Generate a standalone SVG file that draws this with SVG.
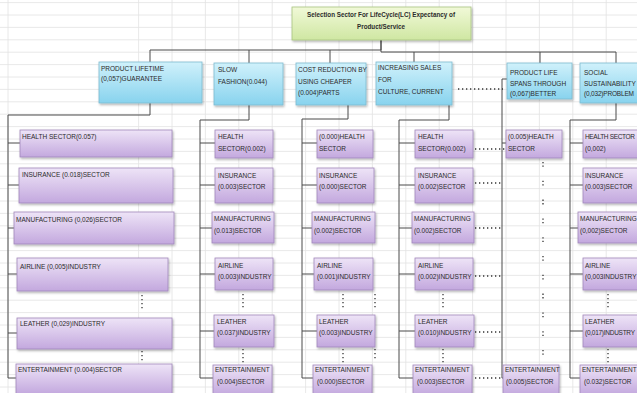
<svg xmlns="http://www.w3.org/2000/svg" width="637" height="393" viewBox="0 0 637 393">
<defs>
<linearGradient id="gGreen" x1="0" y1="0" x2="0" y2="1"><stop offset="0" stop-color="#f1f9d8"/><stop offset="1" stop-color="#cfe7a2"/></linearGradient>
<linearGradient id="gBlue" x1="0" y1="0" x2="0" y2="1"><stop offset="0" stop-color="#d0f1fb"/><stop offset="1" stop-color="#88d3ee"/></linearGradient>
<linearGradient id="gPurple" x1="0" y1="0" x2="0" y2="1"><stop offset="0" stop-color="#eee4f7"/><stop offset="1" stop-color="#c3a8de"/></linearGradient>
<filter id="sh" x="-10%" y="-10%" width="130%" height="140%"><feDropShadow dx="1" dy="1.5" stdDeviation="1" flood-color="#000" flood-opacity="0.3"/></filter>
<style>
.grid{stroke:#e2e2e2;stroke-width:0.8}
.title{fill:url(#gGreen);stroke:#a9c47f;stroke-width:0.8;filter:url(#sh)}
.l1{fill:url(#gBlue);stroke:#7dbbd0;stroke-width:0.8;filter:url(#sh)}
.l2{fill:url(#gPurple);stroke:#a188bb;stroke-width:0.8;filter:url(#sh)}
.c{fill:none;stroke:#4a4a4a;stroke-width:1}
.d{fill:none;stroke:#333;stroke-width:1.3;stroke-dasharray:1.3 2.7}
.dc{fill:none;stroke:#333;stroke-width:1.3;stroke-dasharray:1.3 2.2 1.3 14}
text{font-family:"Liberation Sans",Arial,sans-serif;font-size:6.5px;fill:#2b2b2b}
.tt{font-weight:bold;font-size:6.3px;text-anchor:middle}
</style>
</defs>
<rect width="637" height="393" fill="#ffffff"/>
<g id="grid">
<path class="grid" d="M0,2.6H637M0,15H637M0,27.4H637M0,39.8H637M0,52.2H637M0,64.6H637M0,77H637M0,89.4H637M0,101.8H637M0,114.2H637M0,126.6H637M0,139H637M0,151.4H637M0,163.8H637M0,176.2H637M0,188.6H637M0,201H637M0,213.4H637M0,225.8H637M0,238.2H637M0,250.6H637M0,263H637M0,275.4H637M0,287.8H637M0,300.2H637M0,312.6H637M0,325H637M0,337.4H637M0,349.8H637M0,362.2H637M0,374.6H637M0,387H637"/>
<path class="grid" d="M8,0V393M138.6,0V393M172,0V393M205.4,0V393M238.8,0V393M272.2,0V393M305.6,0V393M339,0V393M372.4,0V393M405.8,0V393M439.2,0V393M472.6,0V393M506,0V393M539.4,0V393M572.8,0V393M606.2,0V393"/>
</g>
<g id="connectors">
<path class="c" d="M150,62V50H381V40M381,40V52H616V63M249,50V63M330,50V63M414,52V62M540,52V63"/>
<path class="c" d="M150,103V115H8V378M8,143H20M8,185H19M8,228H14M8,274H17M8,333H17M8,378H16"/>
<path class="c" d="M249,105V120H200V378M200,143H215M200,185H215M200,228H212M200,274H215M200,331H214M200,378H213"/>
<path class="c" d="M348,105V119H302V378M302,143H317M302,185H317M302,228H312M302,274H314M302,331H317M302,378H313"/>
<path class="c" d="M449,105V120H399V378M399,143H415M399,185H415M399,228H412M399,274H415M399,331H415M399,378H413"/>
<path class="c" d="M507,79H502V378M502,143H506M502,378H503"/>
<path class="c" d="M616,103V120H570V378M570,143H583M570,185H583M570,228H578M570,274H583M570,331H583M570,378H580"/>
<path class="d" d="M458,89H503M475,149H505M475,183H503M475,228H503M475,276H503M475,332H503M475,378H502"/>
<path class="dc" d="M543,162V362"/>
<path class="d" d="M142,295V311M142,351V363M243,294V310M243,349V363M343,294V310M343,349V363M375,294V310M375,349V360M443,294V310M443,349V363M608,294V310M608,349V363"/>
</g>
<g id="title"><rect class="title" x="292" y="7" width="179" height="33"/><text class="tt" x="381" y="17">Selection Sector For LifeCycle(LC)  Expectancy of</text><text class="tt" x="381" y="29">Product/Service</text></g>
<g id="n-product-lifetime"><rect class="l1" x="99" y="62" width="103" height="41"/><text x="101" y="71">PRODUCT LIFETIME</text><text x="101" y="81">(0,057)GUARANTEE</text></g>
<g id="n-slow-fashion"><rect class="l1" x="214" y="63" width="69" height="42"/><text x="218" y="72">SLOW</text><text x="218" y="84">FASHION(0.044)</text></g>
<g id="n-cost-reduction"><rect class="l1" x="296" y="63" width="70" height="42"/><text x="298" y="72">COST REDUCTION  BY</text><text x="298" y="84">USING CHEAPER</text><text x="298" y="95">(0.004)PARTS</text></g>
<g id="n-increasing-sales"><rect class="l1" x="376" y="62" width="76" height="43"/><text x="378" y="70">INCREASING SALES</text><text x="378" y="82">FOR</text><text x="378" y="94">CULTURE, CURRENT</text></g>
<g id="n-product-life"><rect class="l1" x="507" y="63" width="65" height="36"/><text x="510" y="75">PRODUCT LIFE</text><text x="510" y="86">SPANS THROUGH</text><text x="510" y="96">(0,067)BETTER</text></g>
<g id="n-social"><rect class="l1" x="580" y="63" width="70" height="40"/><text x="584" y="75">SOCIAL</text><text x="584" y="86">SUSTAINABILITY</text><text x="584" y="96" textLength="50">(0,032)PROBLEM</text></g>
<g id="c1-health"><rect class="l2" x="20" y="130" width="152" height="27"/><text x="22" y="139">HEALTH SECTOR(0.057)</text></g>
<g id="c1-insurance"><rect class="l2" x="19" y="168" width="154" height="35"/><text x="22" y="177">INSURANCE (0.018)SECTOR</text></g>
<g id="c1-manufacturing"><rect class="l2" x="14" y="212" width="160" height="32"/><text x="16" y="222">MANUFACTURING (0,026)SECTOR</text></g>
<g id="c1-airline"><rect class="l2" x="17" y="258" width="151" height="33"/><text x="20" y="269">AIRLINE (0,005)INDUSTRY</text></g>
<g id="c1-leather"><rect class="l2" x="17" y="318" width="155" height="31"/><text x="20" y="326">LEATHER (0,029)INDUSTRY</text></g>
<g id="c1-entertainment"><rect class="l2" x="16" y="364" width="156" height="30"/><text x="18" y="372">ENTERTAINMENT  (0.004)SECTOR</text></g>
<g id="c2-health"><rect class="l2" x="215" y="130" width="58" height="28"/><text x="218" y="139">HEALTH</text><text x="218" y="151">SECTOR(0.002)</text></g>
<g id="c2-insurance"><rect class="l2" x="215" y="168" width="58" height="35"/><text x="218" y="178">INSURANCE</text><text x="218" y="189">(0.003)SECTOR</text></g>
<g id="c2-manufacturing"><rect class="l2" x="212" y="212" width="62" height="31"/><text x="214" y="221">MANUFACTURING</text><text x="214" y="233">(0.013)SECTOR</text></g>
<g id="c2-airline"><rect class="l2" x="215" y="258" width="58" height="32"/><text x="218" y="268">AIRLINE</text><text x="218" y="279">(0.003)INDUSTRY</text></g>
<g id="c2-leather"><rect class="l2" x="214" y="315" width="60" height="32"/><text x="217" y="324">LEATHER</text><text x="217" y="335">(0.037)INDUSTRY</text></g>
<g id="c2-entertainment"><rect class="l2" x="213" y="365" width="59" height="30"/><text x="215" y="372">ENTERTAINMENT</text><text x="217" y="384">(0.004)SECTOR</text></g>
<g id="c3-health"><rect class="l2" x="317" y="130" width="56" height="28"/><text x="319" y="139">(0.000)HEALTH</text><text x="319" y="151">SECTOR</text></g>
<g id="c3-insurance"><rect class="l2" x="317" y="168" width="57" height="35"/><text x="319" y="178">INSURANCE</text><text x="319" y="189">(0.000)SECTOR</text></g>
<g id="c3-manufacturing"><rect class="l2" x="312" y="212" width="63" height="31"/><text x="314" y="221">MANUFACTURING</text><text x="314" y="233">(0.002)SECTOR</text></g>
<g id="c3-airline"><rect class="l2" x="314" y="258" width="59" height="32"/><text x="317" y="268">AIRLINE</text><text x="317" y="279">(0.001)INDUSTRY</text></g>
<g id="c3-leather"><rect class="l2" x="317" y="315" width="58" height="32"/><text x="319" y="324">LEATHER</text><text x="319" y="335">(0.003)INDUSTRY</text></g>
<g id="c3-entertainment"><rect class="l2" x="313" y="365" width="59" height="30"/><text x="315" y="372">ENTERTAINMENT</text><text x="317" y="384">(0.000)SECTOR</text></g>
<g id="c4-health"><rect class="l2" x="415" y="130" width="58" height="28"/><text x="418" y="139">HEALTH</text><text x="418" y="151">SECTOR(0.002)</text></g>
<g id="c4-insurance"><rect class="l2" x="415" y="168" width="58" height="35"/><text x="418" y="178">INSURANCE</text><text x="418" y="189">(0.002)SECTOR</text></g>
<g id="c4-manufacturing"><rect class="l2" x="412" y="212" width="62" height="31"/><text x="414" y="221">MANUFACTURING</text><text x="414" y="233">(0.002)SECTOR</text></g>
<g id="c4-airline"><rect class="l2" x="415" y="258" width="58" height="32"/><text x="418" y="268">AIRLINE</text><text x="418" y="279">(0.002)INDUSTRY</text></g>
<g id="c4-leather"><rect class="l2" x="415" y="315" width="59" height="32"/><text x="418" y="324">LEATHER</text><text x="418" y="335">(0.010)INDUSTRY</text></g>
<g id="c4-entertainment"><rect class="l2" x="413" y="365" width="59" height="30"/><text x="415" y="372">ENTERTAINMENT</text><text x="417" y="384">(0.003)SECTOR</text></g>
<g id="c5-health"><rect class="l2" x="506" y="130" width="56" height="28"/><text x="508" y="139">(0.005)HEALTH</text><text x="508" y="151">SECTOR</text></g>
<g id="c5-entertainment"><rect class="l2" x="503" y="365" width="56" height="30"/><text x="505" y="372">ENTERTAINMENT</text><text x="506" y="384">(0.005)SECTOR</text></g>
<g id="c6-health"><rect class="l2" x="583" y="130" width="60" height="28"/><text x="585" y="139" textLength="50">HEALTH SECTOR</text><text x="585" y="151">(0,002)</text></g>
<g id="c6-insurance"><rect class="l2" x="583" y="168" width="60" height="35"/><text x="585" y="178">INSURANCE</text><text x="585" y="189">(0.003)SECTOR</text></g>
<g id="c6-manufacturing"><rect class="l2" x="578" y="212" width="65" height="31"/><text x="580" y="221">MANUFACTURING</text><text x="580" y="233">(0,002)SECTOR</text></g>
<g id="c6-airline"><rect class="l2" x="583" y="258" width="60" height="32"/><text x="585" y="268">AIRLINE</text><text x="585" y="279">(0,003INDUSTRY</text></g>
<g id="c6-leather"><rect class="l2" x="583" y="315" width="60" height="32"/><text x="585" y="324">LEATHER</text><text x="585" y="335" textLength="50">(0,017)INDUSTRY</text></g>
<g id="c6-entertainment"><rect class="l2" x="580" y="365" width="63" height="30"/><text x="582" y="372">ENTERTAINMENT</text><text x="584" y="384">(0.032)SECTOR</text></g>
</svg>
